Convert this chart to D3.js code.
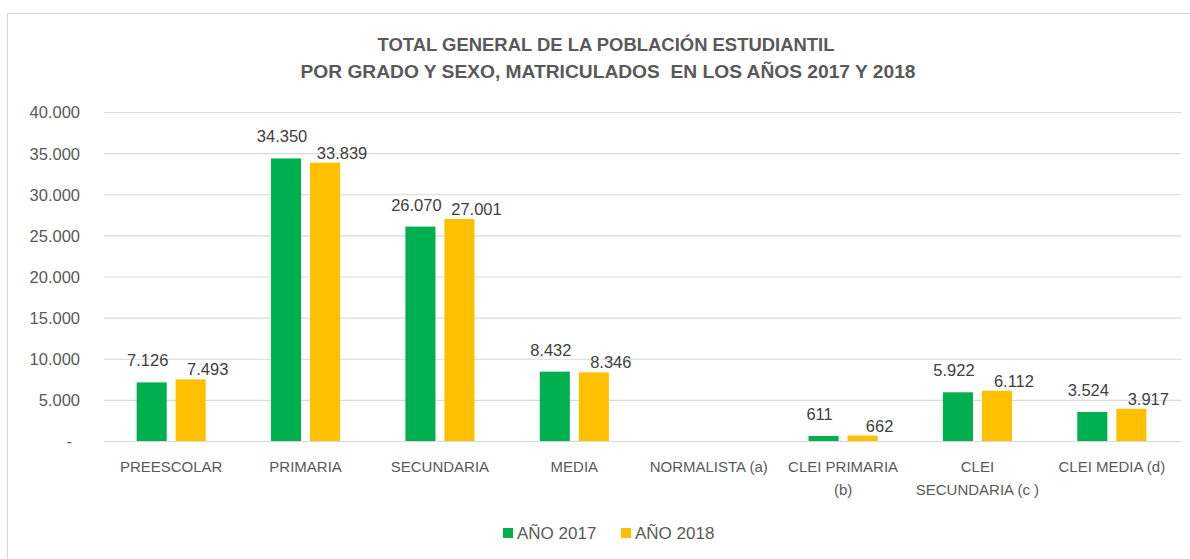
<!DOCTYPE html>
<html><head><meta charset="utf-8">
<script src="https://cdn.jsdelivr.net/npm/d3@7"></script>
<style>body{margin:0;background:#fff}svg{display:block;font-family:"Liberation Sans",Arial,sans-serif}</style>
</head><body><svg id="c" width="1190" height="559"></svg>
<script>
const categories = ["PREESCOLAR","PRIMARIA","SECUNDARIA","MEDIA","NORMALISTA (a)","CLEI PRIMARIA (b)","CLEI SECUNDARIA (c )","CLEI MEDIA (d)"];
const categoryLines = [["PREESCOLAR"],["PRIMARIA"],["SECUNDARIA"],["MEDIA"],["NORMALISTA (a)"],["CLEI PRIMARIA","(b)"],["CLEI","SECUNDARIA (c )"],["CLEI MEDIA (d)"]];
const seriesNames = ["AÑO 2017","AÑO 2018"];
const values2017 = [7126,34350,26070,8432,null,611,5922,3524];
const values2018 = [7493,33839,27001,8346,null,662,6112,3917];
const yTicks = [0,5000,10000,15000,20000,25000,30000,35000,40000];
const titleLines = ["TOTAL GENERAL DE LA POBLACIÓN ESTUDIANTIL","POR GRADO Y SEXO, MATRICULADOS  EN LOS AÑOS 2017 Y 2018"];
const colors = ["#00b050","#ffc000"];

const svg = d3.select("#c");
const locale = d3.formatLocale({decimal:",",thousands:".",grouping:[3],currency:["$",""]});
const fmt = locale.format(",d");

// chart frame
svg.append("path").attr("d","M7.5,1190 V13.5 H1190").attr("fill","none").attr("stroke","#d9d9d9");

const L = 104, R = 1179, T = 112, B = 441;
const x0 = d3.scaleBand().domain(categories).range([L,R]).paddingInner(0.486).paddingOuter(0.243);
const x1 = d3.scaleBand().domain([0,1]).range([0,x0.bandwidth()]).paddingInner(0.23);
const y = d3.scaleLinear().domain([0,40000]).range([B,T]);

// gridlines
svg.append("g").selectAll("line").data(yTicks).join("line")
  .attr("x1",L).attr("x2",R+2).attr("y1",d=>y(d)+0.5).attr("y2",d=>y(d)+0.5)
  .attr("stroke","#d9d9d9").attr("stroke-width",1.2);

// y axis labels
const ya = svg.append("g").attr("transform",`translate(80,0)`)
  .call(d3.axisLeft(y).tickValues(yTicks).tickSize(0).tickPadding(0).tickFormat(d=>d===0?"-":fmt(d)));
ya.select(".domain").remove();
ya.selectAll("text").attr("font-size",16.5).attr("fill","#595959").attr("font-family","Liberation Sans, Arial, sans-serif")
  .attr("dy","0.36em").attr("x",d=>d===0?-8:0);

// bars
const series = [values2017, values2018];
series.forEach((vals,si)=>{
  const g = svg.append("g");
  const data = categories.map((c,i)=>({c, v: vals[i]})).filter(d=>d.v!=null);
  g.selectAll("rect").data(data).join("rect")
    .attr("x",d=>x0(d.c)+x1(si)).attr("width",x1.bandwidth())
    .attr("y",d=>y(d.v)).attr("height",d=>B-y(d.v))
    .attr("fill",colors[si]);
  g.selectAll("text").data(data).join("text")
    .attr("x",d=>x0(d.c)+x1(si)+x1.bandwidth()/2+(si===0?-4:17))
    .attr("y",d=>y(d.v)-(si===0?16:4))
    .attr("text-anchor","middle").attr("font-size",16.5).attr("fill","#404040")
    .text(d=>fmt(d.v));
});

// category labels
const cg = svg.append("g");
categories.forEach((c,i)=>{
  const t = cg.append("text").attr("x",x0(c)+x0.bandwidth()/2).attr("y",472)
    .attr("text-anchor","middle").attr("font-size",15).attr("fill","#595959");
  categoryLines[i].forEach((ln,j)=>{
    t.append("tspan").attr("x",x0(c)+x0.bandwidth()/2).attr("dy",j===0?0:23).text(ln);
  });
});

// title
const tw = [457,615];
titleLines.forEach((ln,i)=>{
  svg.append("text").attr("x",595 + (i===0?11:13)).attr("y",51+i*27).attr("text-anchor","middle")
    .attr("font-size",18).attr("font-weight","bold").attr("fill","#595959")
    .style("white-space","pre")
    .attr("textLength",tw[i]).attr("lengthAdjust","spacingAndGlyphs").text(ln);
});

// legend
const lx = [503,621];
seriesNames.forEach((s,i)=>{
  svg.append("rect").attr("x",lx[i]).attr("y",528).attr("width",10).attr("height",10).attr("fill",colors[i]);
  svg.append("text").attr("x",lx[i]+14).attr("y",539).attr("font-size",17).attr("fill","#595959").text(s);
});
</script></body></html>
